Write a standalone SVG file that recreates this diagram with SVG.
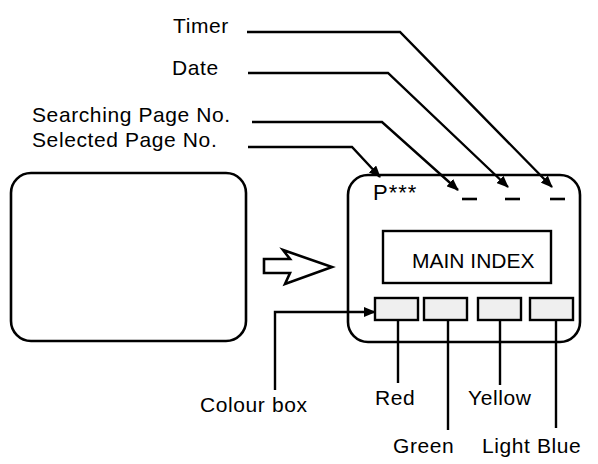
<svg xmlns="http://www.w3.org/2000/svg" width="598" height="464" viewBox="0 0 598 464">
<style>
text{font-family:"Liberation Sans",Arial,sans-serif;font-size:21px;fill:#000;letter-spacing:0.6px}
.frame{fill:#fff;stroke:#000;stroke-width:2.6}
.cbox{fill:#efefef;stroke:#000;stroke-width:2.4}
.con{fill:none;stroke:#000;stroke-width:2.4}
.arr{fill:none;stroke:#000;stroke-width:2.4;marker-end:url(#ah)}
.dash{stroke:#000;stroke-width:2.6}
</style>
<defs>
<marker id="ah" viewBox="0 0 12 10" refX="11" refY="5" markerWidth="12" markerHeight="10" markerUnits="userSpaceOnUse" orient="auto">
<path d="M0,0 L12,5 L0,10 Z" fill="#000"/>
</marker>
</defs>
<g id="before-screen">
<rect class="frame" x="11" y="173" width="235" height="168" rx="20" ry="20"/>
</g>
<g id="transition-arrow">
<polygon class="frame" stroke-width="2.2" points="264,259 290,259 283,250 332,267 285,284 290,273 264,273"/>
</g>
<g id="after-screen">
<rect class="frame" x="348" y="175" width="232" height="167" rx="20" ry="20"/>
<text x="373" y="200" style="font-size:22px;letter-spacing:1px">P***</text>
<line class="dash" x1="462" y1="199" x2="477" y2="199"/>
<line class="dash" x1="505" y1="199" x2="520" y2="199"/>
<line class="dash" x1="550" y1="199" x2="565" y2="199"/>
<g id="main-index">
<rect x="383" y="231" width="168" height="52" fill="#fff" stroke="#000" stroke-width="2.4"/>
<text x="412" y="268" style="letter-spacing:0">MAIN INDEX</text>
</g>
<g id="colour-boxes">
<rect class="cbox" x="375" y="298" width="43" height="22"/>
<rect class="cbox" x="424" y="298" width="43" height="22"/>
<rect class="cbox" x="478" y="298" width="43" height="22"/>
<rect class="cbox" x="530" y="298" width="43" height="22"/>
</g>
</g>
<g id="labels">
<text x="173" y="33">Timer</text>
<text x="172" y="75">Date</text>
<text x="32" y="122">Searching Page No.</text>
<text x="32" y="147">Selected Page No.</text>
<text x="200" y="412">Colour box</text>
<text x="375" y="405">Red</text>
<text x="468" y="405">Yellow</text>
<text x="393" y="453">Green</text>
<text x="482" y="453">Light Blue</text>
</g>
<g id="connectors">
<polyline class="arr" points="247,32 400,32 552,187"/>
<polyline class="arr" points="248,73 388,73 508,187"/>
<polyline class="arr" points="252,122 382,122 458,190"/>
<polyline class="arr" points="248,147 352,147 380,177"/>
<polyline class="arr" points="275,390 275,312 375,312"/>
<line class="con" x1="398" y1="320" x2="398" y2="383"/>
<line class="con" x1="448" y1="320" x2="448" y2="430"/>
<line class="con" x1="500" y1="320" x2="500" y2="385"/>
<line class="con" x1="556" y1="320" x2="556" y2="428"/>
</g>
</svg>
